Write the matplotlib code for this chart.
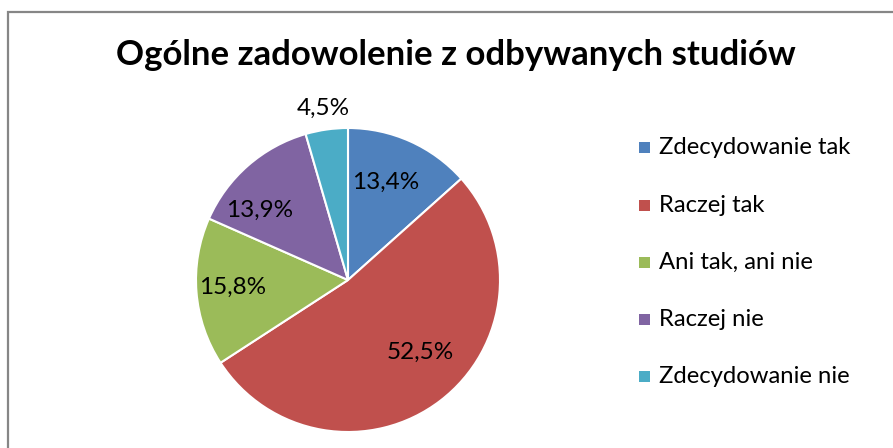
import numpy as np
import matplotlib.pyplot as plt
from matplotlib.patches import Rectangle

categories = ["Zdecydowanie tak", "Raczej tak", "Ani tak, ani nie", "Raczej nie", "Zdecydowanie nie"]
values = [13.4, 52.5, 15.8, 13.9, 4.5]
labels = ["13,4%", "52,5%", "15,8%", "13,9%", "4,5%"]
colors = ["#4F81BD", "#C0504D", "#9BBB59", "#8064A2", "#4BACC6"]

# label placement (distance from centre, angle nudge in degrees) - mimics Excel best fit
label_dist = [0.69, 0.67, 0.76, 0.74, 1.14]
label_nudge = [3, 7.7, -0.8, 10.6, 0]

plt.rcParams["font.family"] = ["Lato", "DejaVu Sans"]

W, H = 893, 448
fig = plt.figure(figsize=(W / 100, H / 100), dpi=100)

# chart frame (only top and left edges are visible in the crop)
fig.patches.append(Rectangle((7.5 / W, -0.1), 2.0, (H - 11.5) / H + 0.1,
                             transform=fig.transFigure, fill=False,
                             edgecolor="#868686", linewidth=1.6))

fig.text(456 / W, 1 - 55 / H, "Ogólne zadowolenie z odbywanych studiów",
         ha="center", va="center", fontsize=25, fontweight="bold")

cx, cy, r = 348, H - 280, 152
ax = fig.add_axes([(cx - r) / W, (cy - r) / H, 2 * r / W, 2 * r / H])
wedges, _ = ax.pie(values, colors=colors, startangle=90, counterclock=False,
                   radius=1.0, wedgeprops=dict(edgecolor="white", linewidth=1.5))
ax.set_xlim(-1, 1)
ax.set_ylim(-1, 1)
ax.set_aspect("auto")
ax.axis("off")

for w, lab, d, nud in zip(wedges, labels, label_dist, label_nudge):
    ang = np.deg2rad((w.theta1 + w.theta2) / 2 + nud)
    ax.text(d * np.cos(ang), d * np.sin(ang), lab, ha="center", va="center",
            fontsize=17.5, clip_on=False)

# legend
for i, (c, name) in enumerate(zip(colors, categories)):
    y = 1 - (148 + i * 57.2) / H
    fig.patches.append(Rectangle((639 / W, y - 5.5 / H), 11 / W, 11 / H,
                                 transform=fig.transFigure, facecolor=c,
                                 edgecolor="none"))
    fig.text(659 / W, y, name, ha="left", va="center", fontsize=17.2)

fig.savefig("out.png", dpi=100)
